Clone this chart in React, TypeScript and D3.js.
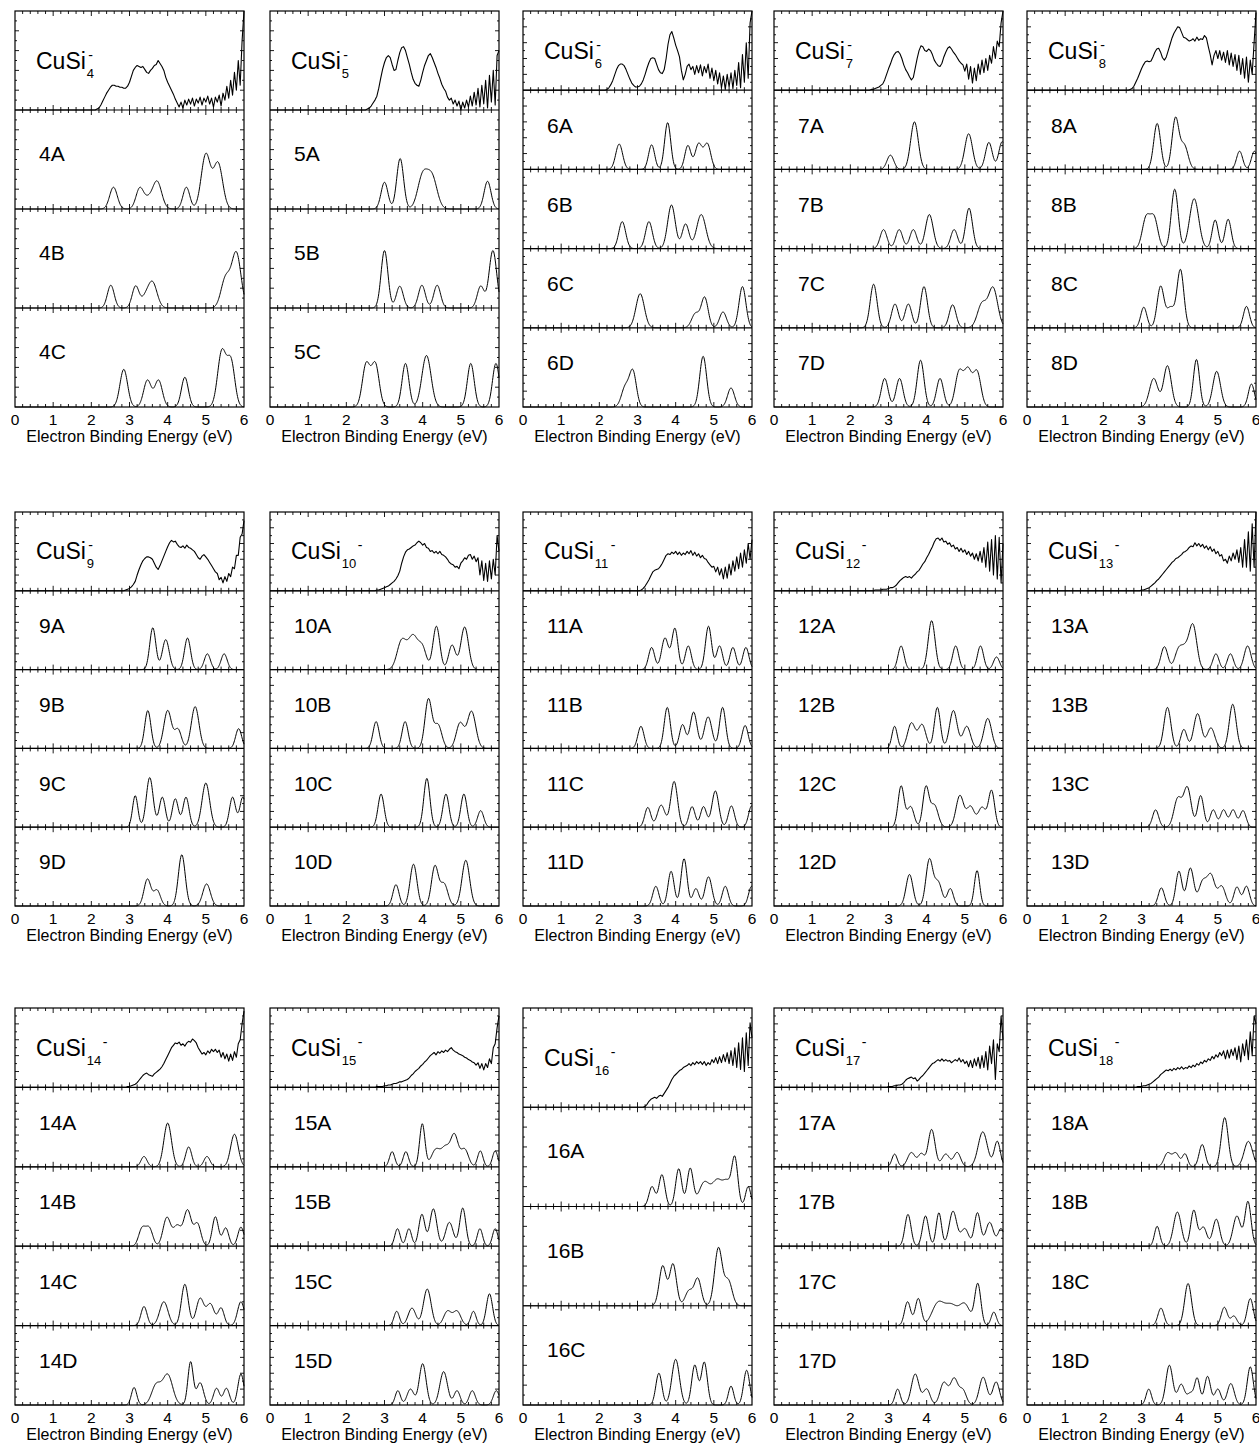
import React from 'react';
import * as d3 from 'd3';

// Photoelectron spectra of CuSi_n^- clusters (n = 4-18) with simulated DOS of candidate isomers.

// Measured spectra: relative intensity (% of panel height), sampled every 0.05 eV from 2.00 to 6.00 eV.
const EXP_START = 2.0;
const EXP_END = 6.0;

const expCuSi4 = [
  0, 0, 0, 1, 2, 5, 9, 13, 17, 20, 23, 25, 25, 24, 24, 23, 23, 22, 22, 24,
  28, 34, 40, 43, 45, 44, 43, 44, 41, 38, 37, 40, 42, 45, 46, 50, 47, 44, 40, 33,
  28, 24, 20, 16, 11, 7, 3, 8, 2, 10, 5, 11, 6, 12, 4, 11, 7, 13, 5, 12,
  8, 14, 6, 12, 3, 13, 8, 15, 4, 17, 10, 24, 12, 30, 15, 38, 20, 50, 25, 70,
  100,
];
const expCuSi5 = [
  0, 0, 0, 0, 0, 0, 0, 0, 0, 0, 0, 1, 2, 4, 7, 10, 14, 22, 32, 41,
  48, 53, 55, 53, 46, 40, 41, 50, 58, 63, 64, 60, 53, 46, 38, 31, 27, 25, 24, 30,
  38, 45, 50, 55, 57, 53, 48, 43, 37, 32, 26, 22, 19, 13, 10, 12, 6, 10, 4, 9,
  0, 8, 2, 10, 3, 14, 4, 18, 5, 22, 3, 25, 6, 30, 2, 35, 8, 40, 5, 55,
  60,
];
const expCuSi6 = [
  0, 0, 0, 0, 1, 3, 7, 12, 19, 26, 31, 33, 33, 31, 26, 20, 14, 9, 6, 4,
  4, 5, 8, 13, 20, 28, 35, 40, 41, 40, 33, 26, 22, 21, 26, 40, 58, 70, 74, 66,
  57, 50, 42, 25, 13, 20, 30, 33, 26, 30, 20, 31, 22, 32, 18, 30, 22, 33, 15, 28,
  12, 25, 8, 22, 3, 18, 1, 20, 4, 22, 2, 25, 6, 35, 3, 45, 10, 60, 15, 85,
  100,
];
const expCuSi7 = [
  0, 0, 0, 0, 0, 0, 0, 0, 0, 0, 0, 1, 1, 2, 3, 4, 6, 8, 13, 20,
  27, 33, 40, 45, 48, 49, 46, 40, 32, 26, 22, 17, 13, 16, 28, 40, 50, 56, 55, 50,
  49, 52, 50, 45, 38, 34, 31, 30, 34, 42, 48, 53, 55, 52, 48, 45, 41, 37, 34, 32,
  24, 33, 14, 30, 9, 28, 12, 33, 20, 38, 22, 40, 25, 44, 34, 55, 40, 62, 55, 85,
  100,
];
const expCuSi8 = [
  0, 0, 0, 0, 0, 0, 0, 0, 0, 0, 0, 0, 0, 0, 1, 2, 5, 10, 15, 21,
  27, 32, 36, 37, 36, 37, 42, 48, 52, 53, 48, 41, 38, 42, 50, 58, 66, 72, 76, 80,
  79, 73, 67, 66, 64, 62, 63, 65, 62, 67, 63, 65, 64, 69, 66, 55, 45, 32, 44, 50,
  40, 50, 38, 48, 35, 50, 32, 47, 30, 45, 25, 44, 20, 40, 15, 42, 10, 38, 20, 60,
  98,
];
const expCuSi9 = [
  0, 0, 0, 0, 0, 0, 0, 0, 0, 0, 0, 0, 0, 0, 0, 0, 0, 0, 1, 2,
  3, 5, 8, 12, 20, 27, 33, 38, 41, 43, 43, 42, 40, 35, 30, 27, 32, 38, 44, 50,
  56, 61, 64, 62, 63, 59, 56, 55, 57, 54, 58, 55, 54, 52, 50, 46, 42, 40, 44, 46,
  43, 40, 36, 32, 28, 24, 22, 14, 17, 10, 18, 12, 22, 18, 30, 28, 45, 45, 68, 72,
  89,
];
const expCuSi10 = [
  0, 0, 0, 0, 0, 0, 0, 0, 0, 0, 0, 0, 0, 0, 0, 0, 1, 1, 2, 3,
  4, 5, 6, 8, 10, 12, 15, 19, 25, 35, 43, 49, 52, 53, 55, 57, 58, 61, 63, 61,
  58, 60, 55, 54, 50, 51, 48, 50, 47, 50, 46, 45, 43, 40, 36, 34, 33, 30, 31, 28,
  35, 38, 42, 40, 45, 46, 40, 44, 37, 42, 20, 38, 13, 35, 12, 38, 15, 40, 20, 70,
  50,
];
const expCuSi11 = [
  0, 0, 0, 0, 0, 0, 0, 0, 0, 0, 0, 0, 0, 0, 0, 0, 0, 0, 0, 0,
  0, 0, 1, 3, 6, 10, 14, 19, 24, 26, 27, 28, 31, 35, 40, 45, 47, 46, 49, 47,
  50, 46, 49, 45, 48, 46, 50, 47, 51, 45, 49, 44, 47, 42, 45, 41, 40, 36, 33, 30,
  31, 24, 30, 20, 28, 15, 30, 16, 34, 20, 38, 25, 43, 28, 48, 30, 52, 35, 60, 40,
  65,
];
const expCuSi12 = [
  0, 0, 0, 0, 0, 0, 0, 0, 0, 0, 0, 0, 0, 1, 1, 1, 1, 2, 2, 2,
  3, 4, 4, 5, 7, 10, 13, 15, 17, 18, 17, 18, 16, 19, 21, 24, 26, 30, 34, 37,
  42, 46, 51, 56, 62, 66, 67, 64, 67, 62, 63, 59, 61, 56, 58, 53, 55, 50, 54, 49,
  52, 46, 50, 44, 48, 40, 47, 38, 50, 36, 55, 30, 62, 25, 65, 20, 70, 15, 68, 10,
  60,
];
const expCuSi13 = [
  0, 0, 0, 0, 0, 0, 0, 0, 0, 0, 0, 0, 0, 0, 0, 0, 0, 0, 0, 0,
  1, 1, 2, 3, 4, 6, 8, 10, 13, 15, 18, 21, 24, 27, 30, 33, 36, 38, 41, 42,
  44, 46, 49, 50, 52, 55, 57, 56, 61, 57, 60, 56, 59, 54, 57, 52, 56, 50, 53, 47,
  50, 44, 46, 38, 40, 35, 44, 38, 48, 40, 52, 36, 55, 30, 65, 30, 75, 25, 85, 30,
  100,
];
const expCuSi14 = [
  0, 0, 0, 0, 0, 0, 0, 0, 0, 0, 0, 0, 0, 0, 0, 0, 0, 0, 0, 1,
  1, 2, 3, 4, 6, 9, 12, 15, 17, 18, 16, 15, 14, 17, 19, 21, 23, 26, 30, 35,
  40, 45, 50, 53, 56, 55, 57, 53, 55, 52, 56, 58, 57, 61, 59, 56, 50, 46, 42, 44,
  41, 46, 43, 48, 45, 48, 44, 47, 38, 44, 36, 42, 33, 42, 34, 45, 38, 55, 60, 80,
  96,
];
const expCuSi15 = [
  0, 0, 0, 0, 0, 0, 0, 0, 0, 0, 0, 0, 0, 0, 0, 0, 1, 1, 1, 1,
  2, 2, 3, 3, 4, 5, 5, 6, 7, 7, 8, 9, 10, 12, 15, 17, 20, 22, 24, 27,
  29, 32, 34, 37, 40, 42, 44, 41, 45, 43, 46, 44, 47, 45, 48, 50, 47, 45, 44, 42,
  41, 40, 38, 37, 35, 34, 32, 31, 28, 31, 24, 30, 22, 30, 25, 36, 30, 50, 55, 75,
  90,
];
const expCuSi16 = [
  0, 0, 0, 0, 0, 0, 0, 0, 0, 0, 0, 0, 0, 0, 0, 0, 0, 0, 0, 0,
  0, 0, 0, 0, 1, 3, 6, 8, 9, 10, 9, 11, 12, 11, 14, 17, 20, 24, 28, 31,
  33, 35, 37, 38, 40, 41, 42, 44, 42, 45, 43, 46, 44, 46, 43, 46, 42, 45, 43, 48,
  45, 50, 44, 51, 45, 53, 46, 55, 44, 57, 42, 60, 40, 65, 38, 70, 36, 75, 42, 85,
  70,
];
const expCuSi17 = [
  0, 0, 0, 0, 0, 0, 0, 0, 0, 0, 0, 0, 0, 0, 0, 0, 0, 0, 0, 0,
  1, 1, 1, 2, 2, 3, 3, 4, 6, 9, 11, 12, 13, 11, 12, 8, 10, 13, 15, 18,
  21, 24, 27, 30, 31, 33, 35, 33, 36, 33, 35, 33, 34, 31, 33, 35, 33, 37, 32, 35,
  30, 33, 26, 34, 25, 36, 27, 38, 24, 40, 25, 45, 22, 52, 30, 60, 10, 55, 45, 90,
  60,
];
const expCuSi18 = [
  0, 0, 0, 0, 0, 0, 0, 0, 0, 0, 0, 0, 0, 0, 0, 0, 0, 0, 1, 1,
  1, 2, 2, 3, 4, 5, 7, 9, 11, 13, 16, 18, 20, 22, 21, 23, 21, 24, 22, 25,
  23, 26, 23, 25, 24, 27, 25, 28, 26, 30, 28, 32, 30, 34, 32, 36, 34, 39, 36, 41,
  38, 44, 40, 46, 36, 47, 37, 48, 40, 50, 35, 52, 32, 55, 40, 60, 35, 70, 40, 90,
  80,
];

// Simulated DOS peaks: [binding energy (eV), peak height (% of panel height), Gaussian width (eV)].
const sim4A = [[2.58, 22, 0.1], [3.27, 21, 0.1], [3.48, 8, 0.1], [3.72, 28, 0.12], [4.49, 22, 0.09], [5.0, 55, 0.12], [5.32, 46, 0.12]];
const sim4B = [[2.51, 23, 0.09], [3.16, 22, 0.09], [3.4, 8, 0.1], [3.6, 26, 0.12], [5.52, 30, 0.12], [5.8, 55, 0.12]];
const sim4C = [[2.85, 38, 0.1], [3.47, 27, 0.1], [3.76, 27, 0.1], [4.45, 30, 0.09], [5.42, 56, 0.11], [5.66, 45, 0.1]];
const sim5A = [[3.0, 27, 0.09], [3.41, 51, 0.09], [4.0, 33, 0.13], [4.25, 31, 0.13], [5.7, 28, 0.09]];
const sim5B = [[3.0, 58, 0.09], [3.4, 22, 0.09], [3.98, 23, 0.09], [4.38, 23, 0.09], [5.52, 22, 0.09], [5.84, 58, 0.1]];
const sim5C = [[2.52, 43, 0.1], [2.76, 43, 0.1], [3.55, 44, 0.09], [4.1, 52, 0.12], [5.26, 44, 0.09], [5.92, 44, 0.09]];
const sim6A = [[2.52, 32, 0.09], [3.37, 31, 0.08], [3.79, 59, 0.08], [4.32, 30, 0.08], [4.6, 32, 0.09], [4.83, 32, 0.09]];
const sim6B = [[2.6, 34, 0.09], [3.3, 34, 0.09], [3.89, 55, 0.1], [4.26, 31, 0.09], [4.67, 43, 0.12]];
const sim6C = [[3.07, 43, 0.11], [4.52, 18, 0.1], [4.76, 38, 0.09], [5.24, 20, 0.09], [5.75, 52, 0.09]];
const sim6D = [[2.68, 25, 0.1], [2.88, 44, 0.09], [4.72, 64, 0.09], [5.45, 24, 0.09]];
const sim7A = [[3.05, 18, 0.09], [3.68, 60, 0.1], [5.1, 45, 0.1], [5.63, 34, 0.09], [5.98, 35, 0.09]];
const sim7B = [[2.87, 24, 0.09], [3.28, 24, 0.09], [3.65, 24, 0.09], [4.07, 43, 0.1], [4.72, 24, 0.09], [5.11, 51, 0.09]];
const sim7C = [[2.61, 55, 0.09], [3.17, 30, 0.09], [3.52, 30, 0.09], [3.93, 52, 0.09], [4.68, 29, 0.09], [5.45, 30, 0.12], [5.74, 50, 0.12]];
const sim7D = [[2.9, 36, 0.09], [3.29, 36, 0.09], [3.84, 59, 0.09], [4.35, 36, 0.09], [4.85, 44, 0.1], [5.08, 45, 0.1], [5.32, 44, 0.1]];
const sim8A = [[3.41, 58, 0.09], [3.89, 64, 0.09], [4.12, 30, 0.1], [5.57, 23, 0.08], [5.96, 23, 0.08]];
const sim8B = [[3.12, 38, 0.1], [3.33, 38, 0.1], [3.87, 75, 0.09], [4.38, 63, 0.12], [4.93, 36, 0.08], [5.27, 37, 0.08]];
const sim8C = [[3.06, 26, 0.08], [3.5, 52, 0.09], [3.76, 25, 0.1], [4.02, 73, 0.09], [5.75, 27, 0.08]];
const sim8D = [[3.32, 36, 0.11], [3.68, 52, 0.1], [4.44, 60, 0.08], [4.97, 45, 0.1], [5.88, 29, 0.08]];
const sim9A = [[3.61, 53, 0.08], [3.95, 38, 0.09], [4.52, 40, 0.08], [5.04, 20, 0.08], [5.48, 20, 0.08]];
const sim9B = [[3.48, 48, 0.08], [4.0, 48, 0.1], [4.27, 24, 0.09], [4.72, 53, 0.1], [5.86, 25, 0.08]];
const sim9C = [[3.15, 40, 0.07], [3.53, 63, 0.09], [3.86, 38, 0.08], [4.2, 36, 0.08], [4.48, 38, 0.08], [5.0, 56, 0.1], [5.7, 38, 0.08], [5.97, 38, 0.08]];
const sim9D = [[3.47, 34, 0.09], [3.72, 20, 0.09], [4.37, 65, 0.09], [5.02, 28, 0.1]];
const sim10A = [[3.45, 36, 0.12], [3.75, 42, 0.13], [4.0, 25, 0.1], [4.36, 55, 0.09], [4.77, 31, 0.09], [5.1, 54, 0.1]];
const sim10B = [[2.78, 34, 0.08], [3.54, 34, 0.08], [4.15, 62, 0.09], [4.4, 30, 0.1], [4.98, 32, 0.1], [5.28, 47, 0.11]];
const sim10C = [[2.91, 42, 0.08], [4.11, 62, 0.08], [4.61, 42, 0.08], [5.08, 42, 0.08], [5.52, 21, 0.08]];
const sim10D = [[3.3, 27, 0.08], [3.76, 53, 0.09], [4.32, 50, 0.09], [4.56, 28, 0.1], [5.13, 58, 0.1]];
const sim11A = [[3.37, 28, 0.08], [3.72, 40, 0.09], [3.98, 52, 0.08], [4.33, 30, 0.08], [4.86, 55, 0.08], [5.15, 30, 0.08], [5.5, 28, 0.08], [5.84, 28, 0.08]];
const sim11B = [[3.09, 28, 0.08], [3.78, 52, 0.08], [4.18, 30, 0.08], [4.47, 46, 0.09], [4.85, 40, 0.1], [5.23, 52, 0.08], [5.82, 29, 0.08]];
const sim11C = [[3.27, 25, 0.08], [3.62, 28, 0.1], [3.96, 58, 0.09], [4.43, 26, 0.08], [4.73, 26, 0.08], [5.04, 46, 0.09], [5.46, 27, 0.08], [5.99, 27, 0.08]];
const sim11D = [[3.48, 25, 0.08], [3.88, 44, 0.08], [4.22, 60, 0.08], [4.53, 22, 0.08], [4.86, 37, 0.09], [5.3, 25, 0.08], [5.99, 25, 0.08]];
const sim12A = [[3.33, 30, 0.08], [4.13, 62, 0.09], [4.76, 30, 0.08], [5.41, 30, 0.08], [5.83, 16, 0.08]];
const sim12B = [[3.16, 28, 0.07], [3.6, 32, 0.1], [3.88, 30, 0.1], [4.28, 52, 0.08], [4.7, 48, 0.1], [5.05, 28, 0.1], [5.6, 38, 0.1]];
const sim12C = [[3.33, 52, 0.08], [3.58, 26, 0.09], [3.98, 50, 0.08], [4.2, 28, 0.1], [4.87, 40, 0.1], [5.15, 26, 0.1], [5.45, 25, 0.1], [5.7, 46, 0.08]];
const sim12D = [[3.55, 40, 0.09], [4.07, 58, 0.09], [4.3, 30, 0.1], [4.62, 22, 0.08], [5.32, 45, 0.07]];
const sim13A = [[3.6, 29, 0.09], [3.97, 24, 0.1], [4.15, 22, 0.1], [4.35, 55, 0.1], [4.95, 20, 0.08], [5.33, 20, 0.08], [5.78, 30, 0.09]];
const sim13B = [[3.68, 52, 0.09], [4.11, 24, 0.08], [4.47, 44, 0.1], [4.82, 26, 0.1], [5.39, 56, 0.09]];
const sim13C = [[3.37, 22, 0.08], [3.95, 36, 0.1], [4.2, 50, 0.1], [4.55, 40, 0.08], [4.88, 22, 0.08], [5.15, 22, 0.08], [5.4, 22, 0.08], [5.66, 21, 0.08]];
const sim13D = [[3.52, 23, 0.08], [3.98, 44, 0.08], [4.28, 48, 0.09], [4.6, 30, 0.1], [4.82, 38, 0.1], [5.1, 25, 0.1], [5.5, 24, 0.08], [5.75, 25, 0.08]];
const sim14A = [[3.38, 13, 0.08], [4.0, 55, 0.1], [4.55, 25, 0.08], [5.03, 13, 0.08], [5.75, 41, 0.1]];
const sim14B = [[3.33, 22, 0.09], [3.52, 22, 0.09], [3.98, 36, 0.1], [4.25, 25, 0.1], [4.52, 45, 0.1], [4.78, 28, 0.09], [5.25, 37, 0.08], [5.52, 23, 0.08], [5.92, 24, 0.08]];
const sim14C = [[3.38, 24, 0.08], [3.9, 30, 0.11], [4.45, 52, 0.09], [4.85, 34, 0.1], [5.12, 27, 0.1], [5.4, 22, 0.08], [5.92, 30, 0.09]];
const sim14D = [[3.12, 22, 0.07], [3.7, 25, 0.12], [4.0, 38, 0.13], [4.6, 54, 0.07], [4.85, 28, 0.09], [5.28, 21, 0.08], [5.54, 21, 0.08], [5.92, 39, 0.08]];
const sim15A = [[3.2, 19, 0.07], [3.56, 19, 0.07], [3.99, 54, 0.07], [4.35, 22, 0.12], [4.6, 22, 0.1], [4.83, 40, 0.1], [5.1, 22, 0.1], [5.51, 20, 0.07], [5.9, 20, 0.07]];
const sim15B = [[3.34, 22, 0.07], [3.64, 22, 0.07], [3.98, 40, 0.08], [4.28, 47, 0.09], [4.7, 30, 0.1], [5.05, 48, 0.08], [5.5, 22, 0.07], [5.9, 22, 0.07]];
const sim15C = [[3.32, 18, 0.07], [3.72, 22, 0.1], [4.12, 46, 0.1], [4.65, 18, 0.1], [4.9, 18, 0.1], [5.33, 18, 0.07], [5.75, 40, 0.08]];
const sim15D = [[3.35, 18, 0.07], [3.68, 20, 0.09], [4.0, 52, 0.09], [4.55, 42, 0.1], [4.9, 18, 0.08], [5.3, 18, 0.08], [5.93, 18, 0.08]];
const sim16A = [[3.38, 20, 0.08], [3.64, 32, 0.08], [4.08, 38, 0.08], [4.38, 38, 0.08], [4.75, 24, 0.14], [5.1, 26, 0.14], [5.35, 20, 0.1], [5.55, 48, 0.08], [5.9, 20, 0.07]];
const sim16B = [[3.66, 40, 0.09], [3.93, 42, 0.09], [4.35, 15, 0.1], [4.58, 27, 0.09], [5.12, 58, 0.1], [5.38, 25, 0.1]];
const sim16C = [[3.56, 32, 0.08], [4.0, 46, 0.1], [4.5, 40, 0.08], [4.75, 43, 0.08], [5.45, 19, 0.07], [5.86, 35, 0.08]];
const sim17A = [[3.16, 16, 0.07], [3.6, 18, 0.1], [3.86, 16, 0.08], [4.13, 47, 0.09], [4.5, 16, 0.1], [4.8, 18, 0.09], [5.47, 44, 0.12], [5.85, 32, 0.08]];
const sim17B = [[3.51, 40, 0.08], [3.97, 38, 0.08], [4.32, 42, 0.07], [4.69, 44, 0.1], [5.0, 22, 0.1], [5.33, 42, 0.08], [5.65, 30, 0.1], [5.95, 22, 0.08]];
const sim17C = [[3.5, 30, 0.08], [3.78, 34, 0.08], [4.3, 28, 0.16], [4.65, 24, 0.16], [5.0, 26, 0.14], [5.34, 52, 0.08], [5.76, 17, 0.07]];
const sim17D = [[3.24, 20, 0.07], [3.7, 39, 0.1], [4.0, 20, 0.09], [4.45, 28, 0.1], [4.72, 33, 0.1], [4.95, 18, 0.09], [5.48, 35, 0.1], [5.82, 29, 0.09]];
const sim18A = [[3.68, 17, 0.09], [3.9, 17, 0.09], [4.14, 16, 0.07], [4.59, 28, 0.08], [5.18, 62, 0.09], [5.8, 32, 0.11]];
const sim18B = [[3.41, 25, 0.07], [3.94, 43, 0.1], [4.37, 45, 0.08], [4.62, 24, 0.09], [4.96, 34, 0.09], [5.5, 38, 0.1], [5.79, 56, 0.08]];
const sim18C = [[3.51, 22, 0.08], [4.22, 53, 0.09], [5.17, 23, 0.08], [5.42, 12, 0.08], [5.85, 34, 0.08]];
const sim18D = [[3.19, 20, 0.07], [3.73, 50, 0.09], [4.04, 26, 0.09], [4.28, 14, 0.08], [4.46, 33, 0.07], [4.73, 36, 0.08], [5.0, 20, 0.08], [5.34, 27, 0.09], [5.85, 48, 0.08]];

const xTickLabels = [0, 1, 2, 3, 4, 5, 6];
const axisTitle = 'Electron Binding Energy (eV)';

const clusters = [
  { n: 4, exp: expCuSi4, isomers: [['4A', sim4A], ['4B', sim4B], ['4C', sim4C]] },
  { n: 5, exp: expCuSi5, isomers: [['5A', sim5A], ['5B', sim5B], ['5C', sim5C]] },
  { n: 6, exp: expCuSi6, isomers: [['6A', sim6A], ['6B', sim6B], ['6C', sim6C], ['6D', sim6D]] },
  { n: 7, exp: expCuSi7, isomers: [['7A', sim7A], ['7B', sim7B], ['7C', sim7C], ['7D', sim7D]] },
  { n: 8, exp: expCuSi8, isomers: [['8A', sim8A], ['8B', sim8B], ['8C', sim8C], ['8D', sim8D]] },
  { n: 9, exp: expCuSi9, isomers: [['9A', sim9A], ['9B', sim9B], ['9C', sim9C], ['9D', sim9D]] },
  { n: 10, exp: expCuSi10, isomers: [['10A', sim10A], ['10B', sim10B], ['10C', sim10C], ['10D', sim10D]] },
  { n: 11, exp: expCuSi11, isomers: [['11A', sim11A], ['11B', sim11B], ['11C', sim11C], ['11D', sim11D]] },
  { n: 12, exp: expCuSi12, isomers: [['12A', sim12A], ['12B', sim12B], ['12C', sim12C], ['12D', sim12D]] },
  { n: 13, exp: expCuSi13, isomers: [['13A', sim13A], ['13B', sim13B], ['13C', sim13C], ['13D', sim13D]] },
  { n: 14, exp: expCuSi14, isomers: [['14A', sim14A], ['14B', sim14B], ['14C', sim14C], ['14D', sim14D]] },
  { n: 15, exp: expCuSi15, isomers: [['15A', sim15A], ['15B', sim15B], ['15C', sim15C], ['15D', sim15D]] },
  { n: 16, exp: expCuSi16, isomers: [['16A', sim16A], ['16B', sim16B], ['16C', sim16C]] },
  { n: 17, exp: expCuSi17, isomers: [['17A', sim17A], ['17B', sim17B], ['17C', sim17C], ['17D', sim17D]] },
  { n: 18, exp: expCuSi18, isomers: [['18A', sim18A], ['18B', sim18B], ['18C', sim18C], ['18D', sim18D]] },
];

// Page layout
const WIDTH = 1259;
const HEIGHT = 1447;
const COL_X = [15, 270, 523, 774, 1027];
const PANEL_W = 229;
const ROW_TOP = [11, 512, 1008];
const ROW_BOTTOM = [407, 906, 1405];
const FONT = "'Liberation Sans', Arial, Helvetica, sans-serif";

// Energy grid used to evaluate the broadened DOS
const grid = d3.range(0, 601).map((k) => k / 100);

function dos(peaks: number[][], e: number) {
  let s = 0;
  for (const [c, h, w] of peaks) s += h * Math.exp(-((e - c) * (e - c)) / (2 * w * w));
  return s;
}

function Panel({ cluster, x0, y0, y1 }: { cluster: any; x0: number; y0: number; y1: number }) {
  const nSlots = cluster.isomers.length + 1;
  const slotH = (y1 - y0) / nSlots;
  const x = d3.scaleLinear().domain([0, 6]).range([x0, x0 + PANEL_W]);
  const slotY = (i: number) =>
    d3.scaleLinear().domain([0, 100]).range([y0 + (i + 1) * slotH, y0 + i * slotH]);

  // measured spectrum
  const expVals: number[] = cluster.exp;
  const step = (EXP_END - EXP_START) / (expVals.length - 1);
  const expPts: [number, number][] = [[0, 0], ...expVals.map((v, k) => [EXP_START + k * step, v] as [number, number])];
  const y0s = slotY(0);
  const expPath = d3
    .line<[number, number]>()
    .x((d) => x(d[0]))
    .y((d) => y0s(d[1]))(expPts);

  // tick marks
  const xTickVals = d3.range(0, 31).map((k) => k * 0.2);
  let ticks = '';
  for (let i = 0; i <= nSlots; i++) {
    const ye = y0 + i * slotH;
    for (const v of xTickVals) {
      if (v <= 0.001 || v >= 5.999) continue;
      const major = Math.abs(v - Math.round(v)) < 1e-6;
      const len = major ? 5 : 3;
      const xv = x(v);
      if (i < nSlots) ticks += `M${xv},${ye}v${len}`;
      if (i > 0) ticks += `M${xv},${ye}v${-len}`;
    }
  }
  for (let i = 0; i < nSlots; i++) {
    const top = y0 + i * slotH;
    for (let j = 1; j < 10; j++) {
      const yy = top + (j * slotH) / 10;
      const len = j % 2 === 0 ? 4 : 2;
      ticks += `M${x0},${yy}h${len}M${x0 + PANEL_W},${yy}h${-len}`;
    }
  }

  let separators = '';
  for (let i = 1; i < nSlots; i++) {
    const ye = y0 + i * slotH;
    separators += `M${x0},${ye}H${x0 + PANEL_W}`;
  }

  // cluster label CuSi_n^-
  const labX = x0 + 21;
  const labY = y0 + slotH / 2 + 8;
  const cuW = 2.167 * 23;
  const sub = String(cluster.n);
  const subX = labX + cuW + 1;
  const subW = sub.length * 0.556 * 13;
  const minusX = sub.length === 1 ? subX + 1.5 : subX + subW + 1.5;

  return (
    <g>
      <rect x={x0} y={y0} width={PANEL_W} height={y1 - y0} fill="none" stroke="#000" strokeWidth={1.2} />
      <path d={separators} stroke="#000" strokeWidth={1.2} fill="none" />
      <path d={ticks} stroke="#000" strokeWidth={0.9} fill="none" />
      <path d={expPath || ''} stroke="#000" strokeWidth={1.1} fill="none" strokeLinejoin="round" />
      {cluster.isomers.map(([name, peaks]: [string, number[][]], i: number) => {
        const ys = slotY(i + 1);
        const path = d3
          .line<number>()
          .x((e) => x(e))
          .y((e) => ys(dos(peaks, e)))(grid);
        const top = y0 + (i + 1) * slotH;
        return (
          <g key={name}>
            <path d={path || ''} stroke="#000" strokeWidth={1} fill="none" />
            <text x={x0 + 24} y={top + 0.44 * slotH + 7.5} fontSize={21} fill="#000">
              {name}
            </text>
          </g>
        );
      })}
      <text x={labX} y={labY} fontSize={23} fill="#000">
        CuSi
      </text>
      <text x={subX} y={labY + 9} fontSize={13} fill="#000">
        {sub}
      </text>
      <text x={minusX} y={labY - 9} fontSize={14} fill="#000">
        -
      </text>
      {xTickLabels.map((t) => (
        <text key={t} x={x(t)} y={y1 + 18} fontSize={15.5} textAnchor="middle" fill="#000">
          {t}
        </text>
      ))}
      <text x={x0 + PANEL_W / 2} y={y1 + 35} fontSize={16} textAnchor="middle" fill="#000">
        {axisTitle}
      </text>
    </g>
  );
}

export default function App() {
  return (
    <svg
      width={WIDTH}
      height={HEIGHT}
      viewBox={`0 0 ${WIDTH} ${HEIGHT}`}
      style={{ position: 'absolute', left: 0, top: 0, display: 'block' }}
      fontFamily={FONT}
    >
      <rect width={WIDTH} height={HEIGHT} fill="#fff" />
      {clusters.map((c, i) => (
        <Panel
          key={c.n}
          cluster={c}
          x0={COL_X[i % 5]}
          y0={ROW_TOP[Math.floor(i / 5)]}
          y1={ROW_BOTTOM[Math.floor(i / 5)]}
        />
      ))}
    </svg>
  );
}
